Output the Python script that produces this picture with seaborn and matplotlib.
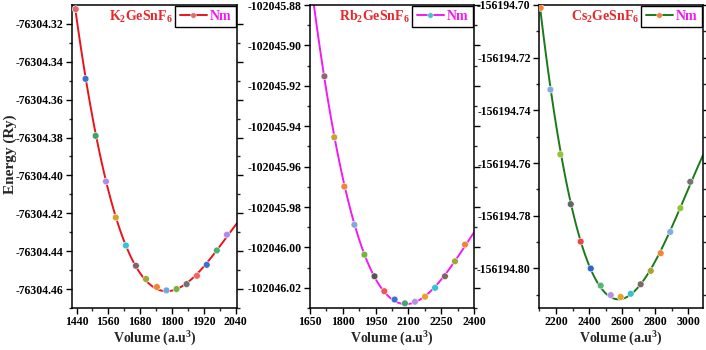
import pandas as pd
import seaborn as sns
import matplotlib.pyplot as plt
from matplotlib.lines import Line2D
from matplotlib.ticker import MultipleLocator, AutoMinorLocator, FormatStrFormatter

# E-V data
k_vol = [1437, 1474, 1512, 1551, 1588, 1626, 1664, 1702, 1743, 1779, 1817, 1855, 1894, 1931, 1969, 2007]
k_energy = [-76304.3122, -76304.3490, -76304.3791, -76304.4032, -76304.4222, -76304.4370,
            -76304.4477, -76304.4547, -76304.4589, -76304.4607, -76304.4600, -76304.4574,
            -76304.4530, -76304.4472, -76304.4396, -76304.4313]
k_colors = ['#e06a6a', '#3a72d0', '#3fa565', '#b48ae6', '#d4a425', '#35c2d2', '#806565', '#a4a535',
            '#f08535', '#6fa6dc', '#74b444', '#727272', '#f06464', '#3a72d0', '#45b575', '#b48ae6']

rb_vol = [1716, 1761, 1807, 1853, 1899, 1945, 1990, 2037, 2084, 2130, 2176, 2222, 2267, 2313, 2359]
rb_energy = [-102045.9153, -102045.9455, -102045.9699, -102045.9888, -102046.0036, -102046.0143,
             -102046.0217, -102046.0258, -102046.0277, -102046.0269, -102046.0244, -102046.0200,
             -102046.0143, -102046.0069, -102045.9986]
rb_colors = ['#906575', '#c4a435', '#f08535', '#86a6e2', '#74b444', '#555555', '#f05555', '#3a72d0',
             '#45a575', '#b494e2', '#e4a428', '#35c2d2', '#806565', '#a4a535', '#f08535']

cs_vol = [2107, 2166, 2226, 2289, 2349, 2410, 2470, 2531, 2591, 2652, 2712, 2773, 2833, 2891, 2952, 3012]
cs_energy = [-156194.7011, -156194.7321, -156194.7567, -156194.7756, -156194.7898, -156194.8000,
             -156194.8065, -156194.8101, -156194.8108, -156194.8096, -156194.8060, -156194.8009,
             -156194.7942, -156194.7861, -156194.7771, -156194.7671]
cs_colors = ['#f08535', '#86aae2', '#94c435', '#646464', '#f04545', '#2a64d2', '#55b575', '#b494e2',
             '#e4a428', '#35c2d2', '#806565', '#a4a535', '#f08535', '#86aae2', '#94c435', '#747474']

compounds = [r'K$_2$GeSnF$_6$', r'Rb$_2$GeSnF$_6$', r'Cs$_2$GeSnF$_6$']
line_colors = ['#e8141c', '#f01cf0', '#1a7a1a']
handle_marker = ['#e07070', '#40c4d4', '#f08535']
xlims = [(1423, 2045), (1650, 2400), (2097, 3089)]
ylims = [(-76304.47, -76304.31), (-102046.03, -102045.88), (-156194.815, -156194.70)]
xsteps = [120, 150, 200]

sns.set_theme(style='ticks')
plt.rcParams['font.family'] = ['Liberation Serif', 'DejaVu Serif']
plt.rcParams['font.weight'] = 'bold'
plt.rcParams['mathtext.fontset'] = 'custom'
plt.rcParams['mathtext.rm'] = 'Liberation Serif:bold'
plt.rcParams['mathtext.bf'] = 'Liberation Serif:bold'
plt.rcParams['mathtext.it'] = 'Liberation Serif:bold'
plt.rcParams['mathtext.default'] = 'rm'

fig = plt.figure(figsize=(7.06, 3.5), dpi=100)
lefts = [72 / 706, 310 / 706, 539 / 706]
widths = [165 / 706, 164 / 706, 164 / 706]

data = [(k_vol, k_energy, k_colors), (rb_vol, rb_energy, rb_colors), (cs_vol, cs_energy, cs_colors)]
legends = []

for i, (vol, en, cols) in enumerate(data):
    ax = fig.add_axes([lefts[i], 42 / 350, widths[i], 303 / 350])
    df = pd.DataFrame({'vol': vol, 'energy': en, 'pt': [str(j) for j in range(len(vol))]})
    ax.set_xlim(*xlims[i])
    # fitted E-V curve, drawn across the whole x range
    sns.regplot(data=df, x='vol', y='energy', order=3, ci=None, scatter=False, truncate=False,
                line_kws={'color': line_colors[i], 'lw': 1.4, 'zorder': 2}, ax=ax)
    sns.scatterplot(data=df, x='vol', y='energy', hue='pt', palette=cols, legend=False,
                    s=24, edgecolor='#ffffff', linewidth=0.4, zorder=3, ax=ax)
    ax.set_xlim(*xlims[i])
    ax.set_ylim(*ylims[i])

    ax.xaxis.set_major_locator(MultipleLocator(xsteps[i]))
    ax.xaxis.set_minor_locator(AutoMinorLocator(2))
    ax.yaxis.set_major_locator(MultipleLocator(0.02))
    ax.yaxis.set_minor_locator(AutoMinorLocator(2))
    ax.yaxis.set_major_formatter(FormatStrFormatter('%.2f'))
    ax.tick_params(axis='both', which='major', direction='out', length=4, width=1, labelsize=8.5,
                   colors='black', pad=2)
    ax.tick_params(axis='both', which='minor', direction='out', length=2.5, width=1)
    ax.tick_params(axis='y', right=True, which='both')
    for s in ax.spines.values():
        s.set_color('black')
        s.set_linewidth(1.1)
    for lab in ax.get_xticklabels() + ax.get_yticklabels():
        lab.set_fontweight('bold')

    ax.set_xlabel(r'Volume (a.u$^3$)', fontsize=10, fontweight='bold', labelpad=1)
    ax.set_ylabel('')

    h = Line2D([], [], color=line_colors[i], lw=1.4, marker='o', markersize=4,
               markerfacecolor=handle_marker[i], markeredgecolor='white', markeredgewidth=0.3)
    leg = ax.legend(handles=[h], labels=['Nm'], loc='upper right', fontsize=10,
                    handlelength=2.0, handletextpad=0.2, borderpad=0.3, borderaxespad=0.08,
                    fancybox=False, edgecolor='black', framealpha=1)
    leg.get_frame().set_linewidth(1.0)
    leg.get_texts()[0].set_color('#f01cf0')
    leg.get_texts()[0].set_fontweight('bold')
    legends.append((ax, leg))

fig.text(0.014, 0.56, 'Energy (Ry)', rotation=90, ha='center', va='center',
         fontsize=11, fontweight='bold')

# compound names sit just left of each legend box
fig.canvas.draw()
for i, (ax, leg) in enumerate(legends):
    bb = leg.get_window_extent().transformed(ax.transAxes.inverted())
    ax.text(bb.x0 - 0.015, (bb.y0 + bb.y1) / 2, compounds[i], transform=ax.transAxes,
            ha='right', va='center', color='#e8262c', fontsize=10, fontweight='bold')

plt.savefig('out.png', dpi=100)
